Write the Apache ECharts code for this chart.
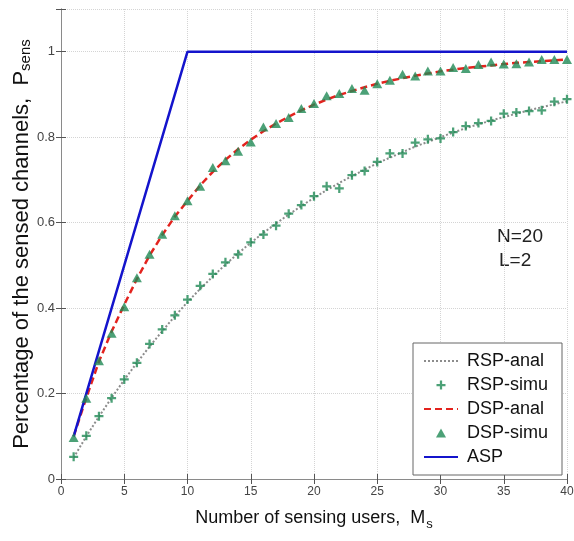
<!DOCTYPE html>
<html>
<head>
<meta charset="utf-8">
<script src="https://cdn.jsdelivr.net/npm/echarts@6/dist/echarts.min.js"></script>
<style>
  html, body { margin: 0; padding: 0; background: #fff; }
  #chart { width: 574px; height: 541px; }
</style>
</head>
<body>
<div id="chart"></div>
<script>
// number of sensing users M_s
const users = [1, 2, 3, 4, 5, 6, 7, 8, 9, 10, 11, 12, 13, 14, 15, 16, 17, 18, 19, 20,
  21, 22, 23, 24, 25, 26, 27, 28, 29, 30, 31, 32, 33, 34, 35, 36, 37, 38, 39, 40]

// random sensing policy
const rspAnal = [0.050, 0.100, 0.146, 0.190, 0.232, 0.272, 0.310, 0.346, 0.381, 0.414,
  0.445, 0.474, 0.502, 0.528, 0.553, 0.576, 0.598, 0.619, 0.639, 0.658,
  0.676, 0.693, 0.709, 0.724, 0.739, 0.752, 0.765, 0.778, 0.789, 0.800,
  0.811, 0.821, 0.830, 0.839, 0.847, 0.855, 0.863, 0.870, 0.877, 0.884]
const rspSimu = [0.052, 0.101, 0.147, 0.189, 0.233, 0.272, 0.316, 0.350, 0.383, 0.420,
  0.452, 0.480, 0.507, 0.526, 0.554, 0.572, 0.593, 0.621, 0.641, 0.662,
  0.685, 0.680, 0.711, 0.721, 0.742, 0.762, 0.762, 0.787, 0.795, 0.797,
  0.812, 0.826, 0.833, 0.838, 0.855, 0.858, 0.861, 0.863, 0.883, 0.889]

// distributed sensing policy
const dspAnal = [0.100, 0.190, 0.275, 0.345, 0.408, 0.468, 0.523, 0.571, 0.614, 0.651,
  0.687, 0.719, 0.747, 0.772, 0.794, 0.814, 0.832, 0.848, 0.863, 0.876,
  0.888, 0.899, 0.908, 0.917, 0.925, 0.932, 0.938, 0.944, 0.949, 0.954,
  0.958, 0.962, 0.965, 0.968, 0.971, 0.974, 0.976, 0.978, 0.980, 0.982]
const dspSimu = [0.097, 0.189, 0.277, 0.341, 0.403, 0.471, 0.526, 0.573, 0.616, 0.651,
  0.685, 0.729, 0.745, 0.767, 0.789, 0.824, 0.832, 0.846, 0.867, 0.879,
  0.897, 0.902, 0.914, 0.910, 0.925, 0.933, 0.947, 0.943, 0.955, 0.955,
  0.963, 0.961, 0.970, 0.976, 0.971, 0.972, 0.976, 0.982, 0.982, 0.982]

// ASP
const aspUsers = [1, 10, 40]
const aspValues = [0.1, 1, 1]

const FONT = '"Liberation Sans", Arial, sans-serif'
const GREEN = '#1f8a55'
const PLUS = 'path://M3,0H5V3H8V5H5V8H3V5H0V3H3Z'
const TRI = 'path://M5,0L10,9H0Z'

const pairs = (xs, ys) => xs.map((x, i) => [x, ys[i]])

// line-only legend entries: hide the default circle on the line icon
const noMarker = { color: 'rgba(0,0,0,0)', borderWidth: 0, opacity: 0 }

const frameAxis = {
  axisLine: { show: true, lineStyle: { color: '#8a8a8a', width: 1 } },
  axisTick: { show: true, inside: true, length: 5, lineStyle: { color: '#555' } },
  axisLabel: { show: false },
  splitLine: { show: false },
}

const chart = echarts.init(document.getElementById('chart'))

chart.setOption({
  backgroundColor: '#fff',
  animation: false,
  textStyle: { fontFamily: FONT },
  grid: { left: 61, right: 7, top: 9, bottom: 62, outerBoundsMode: 'none' },
  legend: {
    orient: 'vertical',
    left: 413,
    top: 343,
    padding: [9, 14, 9, 10],
    itemGap: 6,
    itemWidth: 34,
    itemHeight: 9,
    symbolKeepAspect: true,
    backgroundColor: '#fff',
    borderColor: '#666',
    borderWidth: 1,
    borderRadius: 0,
    textStyle: { fontSize: 18, color: '#111', lineHeight: 18, padding: [0, 0, 0, 4] },
    data: [
      { name: 'RSP-anal', itemStyle: noMarker },
      { name: 'RSP-simu' },
      { name: 'DSP-anal', itemStyle: noMarker },
      { name: 'DSP-simu' },
      { name: 'ASP', itemStyle: noMarker },
    ],
  },
  graphic: [
    { type: 'text', left: 497, top: 227, style: { text: 'N=20', fontSize: 19, fontFamily: FONT, fill: '#222' } },
    { type: 'text', left: 499, top: 251, style: { text: 'L=2', fontSize: 19, fontFamily: FONT, fill: '#222' } },
  ],
  xAxis: [
    {
      type: 'value',
      min: 0,
      max: 40,
      interval: 5,
      name: '{a|Number of sensing users,  M}{b|s}',
      nameLocation: 'middle',
      nameGap: 26,
      nameTextStyle: {
        rich: {
          a: { fontSize: 18, color: '#111', fontFamily: FONT },
          b: { fontSize: 13, color: '#111', fontFamily: FONT, padding: [13, 0, 0, 1] },
        },
      },
      axisLine: { show: true, lineStyle: { color: '#8a8a8a' } },
      axisTick: { show: true, inside: true, length: 5, lineStyle: { color: '#555' } },
      axisLabel: { fontSize: 12, color: '#444', margin: 7 },
      splitLine: { show: true, lineStyle: { color: '#d4d4d4', type: 'dotted' } },
    },
    { type: 'value', position: 'top', min: 0, max: 40, interval: 5, ...frameAxis },
  ],
  yAxis: [
    {
      type: 'value',
      min: 0,
      max: 1.1,
      interval: 0.2,
      name: '{a|Percentage of the sensed channels,  P}{b|sens}',
      nameLocation: 'middle',
      nameRotate: 90,
      nameGap: 28,
      nameMoveOverlap: false,
      nameTextStyle: {
        rich: {
          a: { fontSize: 22, color: '#111', fontFamily: FONT },
          b: { fontSize: 15, color: '#111', fontFamily: FONT, verticalAlign: 'bottom' },
        },
      },
      axisLine: { show: true, lineStyle: { color: '#8a8a8a' } },
      axisTick: { show: true, inside: true, length: 5, lineStyle: { color: '#555' } },
      axisLabel: {
        fontSize: 13,
        color: '#444',
        margin: 6,
        formatter: (v) => (v > 1.05 ? '' : String(+v.toFixed(1))),
      },
      splitLine: { show: true, lineStyle: { color: '#d4d4d4', type: 'dotted' } },
    },
    { type: 'value', position: 'right', min: 0, max: 1.1, interval: 0.2, ...frameAxis },
  ],
  series: [
    {
      name: 'RSP-anal',
      type: 'line',
      data: pairs(users, rspAnal),
      symbol: 'none',
      color: '#8c8c8c',
      lineStyle: { color: '#8c8c8c', width: 2, type: [2, 2] },
      z: 2,
    },
    {
      name: 'RSP-simu',
      type: 'scatter',
      data: pairs(users, rspSimu),
      symbol: PLUS,
      symbolSize: 9,
      itemStyle: { color: GREEN },
      z: 5,
    },
    {
      name: 'DSP-anal',
      type: 'line',
      data: pairs(users, dspAnal),
      symbol: 'none',
      color: '#e3231e',
      lineStyle: { color: '#e3231e', width: 2.5, type: [7, 4] },
      z: 3,
    },
    {
      name: 'DSP-simu',
      type: 'scatter',
      data: pairs(users, dspSimu),
      symbol: TRI,
      symbolSize: [10, 9],
      itemStyle: { color: GREEN },
      z: 5,
    },
    {
      name: 'ASP',
      type: 'line',
      data: pairs(aspUsers, aspValues),
      symbol: 'none',
      color: '#1414cc',
      lineStyle: { color: '#1414cc', width: 2.5 },
      z: 4,
    },
  ],
})
</script>
</body>
</html>
